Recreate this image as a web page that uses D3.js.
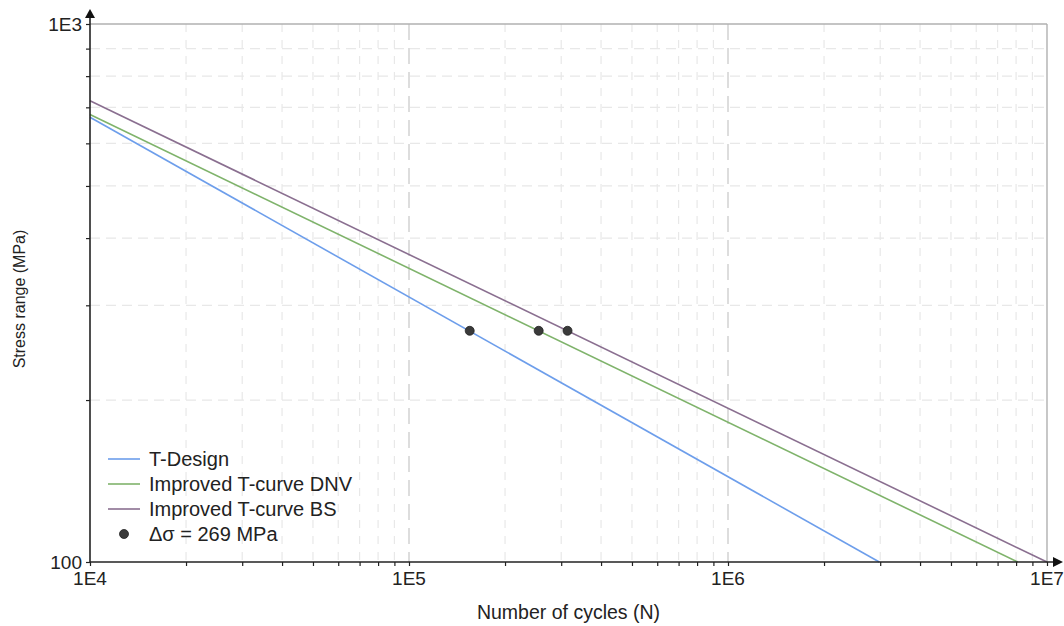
<!DOCTYPE html>
<html>
<head>
<meta charset="utf-8">
<script src="https://cdn.jsdelivr.net/npm/d3@7"></script>
<style>
  html, body { margin: 0; padding: 0; background: #fff; }
  svg { display: block; font-family: "Liberation Sans", Arial, sans-serif; }
</style>
</head>
<body>
<svg id="chart" width="1064" height="626"></svg>
<script>
// ---- data ----
const seriesNames = ["T-Design", "Improved T-curve DNV", "Improved T-curve BS"];
const seriesColors = ["#6d9eeb", "#7fb36b", "#8a6f90"];
const tDesign = [[1e4, 671], [2.98e6, 100]];
const tCurveDNV = [[1e4, 679], [8.1e6, 100]];
const tCurveBS = [[1e4, 720], [1e7, 100]];
const stressPoints = [[1.55e5, 269], [2.55e5, 269], [3.14e5, 269]];
const pointLabel = "Δσ = 269 MPa";
const xMajorTicks = [1e4, 1e5, 1e6, 1e7];
const xTickLabels = ["1E4", "1E5", "1E6", "1E7"];
const yLabeledTicks = [100, 1000];
const yTickLabels = ["100", "1E3"];
const xTitle = "Number of cycles (N)";
const yTitle = "Stress range (MPa)";

// ---- layout ----
const svg = d3.select("#chart");
const x = d3.scaleLog().domain([1e4, 1e7]).range([90, 1047]);
const y = d3.scaleLog().domain([100, 1000]).range([562, 24]);
const textColor = "#222";

const xMinor = [];
for (let k = 4; k < 7; k++) for (let m = 2; m <= 9; m++) xMinor.push(m * Math.pow(10, k));
const yMinor = [];
for (let m = 2; m <= 9; m++) yMinor.push(m * 100);

const grid = svg.append("g");
// minor vertical gridlines
grid.selectAll(".vmin").data(xMinor).join("line")
  .attr("x1", d => x(d)).attr("x2", d => x(d))
  .attr("y1", y(1000)).attr("y2", y(100))
  .attr("stroke", "#e8e8e8").attr("stroke-width", 1.2).attr("stroke-dasharray", "8,8");
// minor horizontal gridlines
grid.selectAll(".hmin").data(yMinor).join("line")
  .attr("x1", x(1e4)).attr("x2", x(1e7))
  .attr("y1", d => y(d)).attr("y2", d => y(d))
  .attr("stroke", "#e8e8e8").attr("stroke-width", 1.2).attr("stroke-dasharray", "10,6");
// major vertical gridlines
grid.selectAll(".vmaj").data([1e5, 1e6]).join("line")
  .attr("x1", d => x(d)).attr("x2", d => x(d))
  .attr("y1", y(1000)).attr("y2", y(100))
  .attr("stroke", "#cfcfcf").attr("stroke-width", 1.4).attr("stroke-dasharray", "16,8");
// top and right border lines
grid.append("line").attr("x1", x(1e4)).attr("x2", x(1e7)).attr("y1", y(1000)).attr("y2", y(1000))
  .attr("stroke", "#b0b0b0").attr("stroke-width", 1.4);
grid.append("line").attr("x1", x(1e7)).attr("x2", x(1e7)).attr("y1", y(1000)).attr("y2", y(100))
  .attr("stroke", "#b0b0b0").attr("stroke-width", 1.4);

// ---- series lines ----
const line = d3.line().x(d => x(d[0])).y(d => y(d[1]));
const seriesData = [tDesign, tCurveDNV, tCurveBS];
svg.append("g").selectAll("path").data(seriesData).join("path")
  .attr("d", d => line(d))
  .attr("fill", "none")
  .attr("stroke", (d, i) => seriesColors[i])
  .attr("stroke-width", 1.6);

// points
svg.append("g").selectAll("circle").data(stressPoints).join("circle")
  .attr("cx", d => x(d[0])).attr("cy", d => y(d[1])).attr("r", 4.5)
  .attr("fill", "#3a3a3a").attr("stroke", "#222").attr("stroke-width", 0.8);

// ---- axes ----
const axisG = svg.append("g");
// x axis
const xAxis = d3.axisBottom(x).tickValues(xMinor.concat(xMajorTicks)).tickSize(4).tickFormat("");
const gx = axisG.append("g").attr("transform", `translate(0,${y(100)})`).call(xAxis);
gx.select(".domain").remove();
gx.selectAll(".tick line").attr("stroke", "#222").attr("stroke-width", 1.2);
axisG.append("line").attr("x1", x(1e4)).attr("x2", 1054).attr("y1", y(100)).attr("y2", y(100))
  .attr("stroke", "#222").attr("stroke-width", 1.6);
axisG.append("path").attr("d", `M1063,${y(100)} L1053,${y(100) - 5} L1053,${y(100) + 5} Z`).attr("fill", "#111");
// y axis
const yAxis = d3.axisLeft(y).tickValues(yMinor.concat(yLabeledTicks)).tickSize(4).tickFormat("");
const gy = axisG.append("g").attr("transform", `translate(${x(1e4)},0)`).call(yAxis);
gy.select(".domain").remove();
gy.selectAll(".tick line").attr("stroke", "#222").attr("stroke-width", 1.2);
axisG.append("line").attr("x1", x(1e4)).attr("x2", x(1e4)).attr("y1", y(100)).attr("y2", 16)
  .attr("stroke", "#222").attr("stroke-width", 1.6);
axisG.append("path").attr("d", `M${x(1e4)},9 L${x(1e4) - 5},18 L${x(1e4) + 5},18 Z`).attr("fill", "#111");

// tick labels
svg.append("g").selectAll("text").data(xMajorTicks).join("text")
  .attr("x", d => x(d)).attr("y", 585)
  .attr("text-anchor", "middle").attr("font-size", 19).attr("fill", textColor)
  .text((d, i) => xTickLabels[i]);
svg.append("g").selectAll("text").data(yLabeledTicks).join("text")
  .attr("x", 82).attr("y", d => y(d)).attr("dy", "0.35em")
  .attr("text-anchor", "end").attr("font-size", 19).attr("fill", textColor)
  .text((d, i) => yTickLabels[i]);

// axis titles
svg.append("text").attr("x", (x(1e4) + x(1e7)) / 2).attr("y", 619)
  .attr("text-anchor", "middle").attr("font-size", 19.5).attr("fill", textColor).text(xTitle);
svg.append("text").attr("transform", `translate(25,${(y(100) + y(1000)) / 2 + 6}) rotate(-90)`)
  .attr("text-anchor", "middle").attr("font-size", 16).attr("fill", textColor).text(yTitle);

// ---- legend ----
const legend = svg.append("g");
const rowY = i => 459 + i * 25;
seriesNames.forEach((name, i) => {
  legend.append("line").attr("x1", 108).attr("x2", 140).attr("y1", rowY(i)).attr("y2", rowY(i))
    .attr("stroke", seriesColors[i]).attr("stroke-width", 1.6);
  legend.append("text").attr("x", 149).attr("y", rowY(i)).attr("dy", "0.35em")
    .attr("font-size", 20).attr("fill", textColor).text(name);
});
legend.append("circle").attr("cx", 124).attr("cy", rowY(3)).attr("r", 4.5)
  .attr("fill", "#3a3a3a").attr("stroke", "#222").attr("stroke-width", 0.8);
legend.append("text").attr("x", 149).attr("y", rowY(3)).attr("dy", "0.35em")
  .attr("font-size", 20).attr("fill", textColor).text(pointLabel);
</script>
</body>
</html>
